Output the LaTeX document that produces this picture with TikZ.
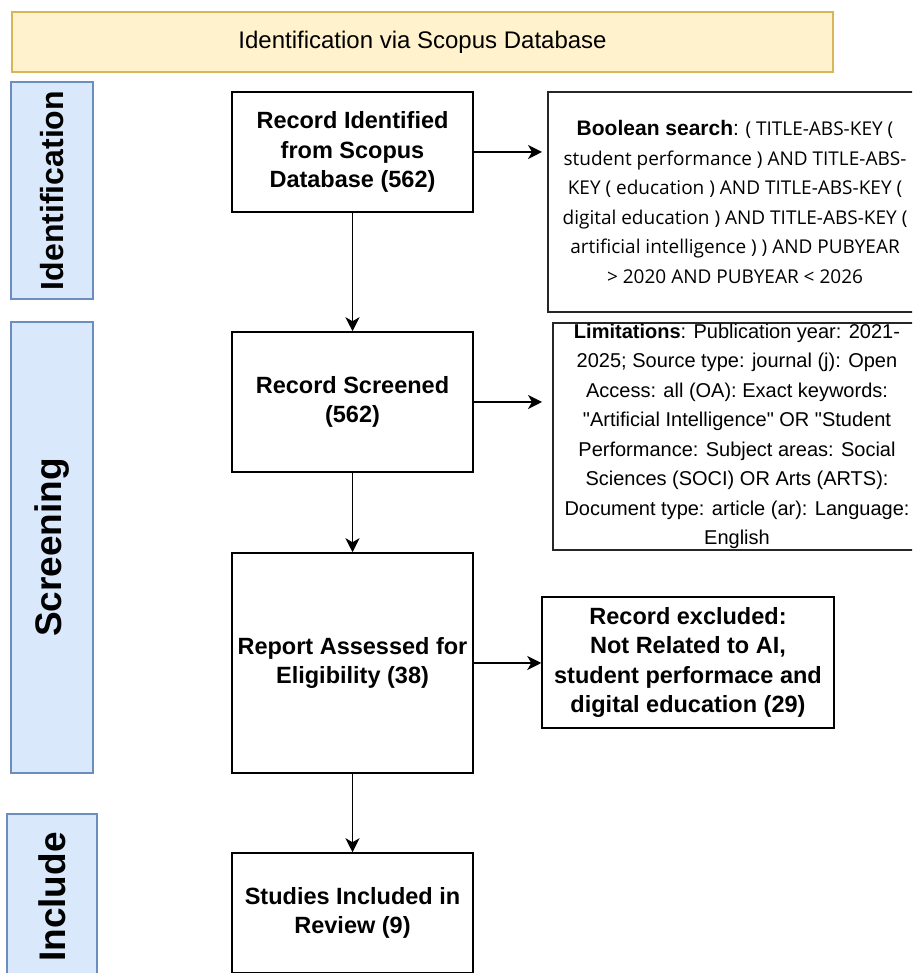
\documentclass[tikz,border=0pt]{standalone}
\usepackage{fontspec}
\setmainfont{Liberation Sans}[Ligatures=TeXOff]
\newfontfamily\queryfont{Open Sans}
\usetikzlibrary{arrows.meta}

\definecolor{bannerfill}{HTML}{FFF2CC}
\definecolor{bannerline}{HTML}{D6B656}
\definecolor{phasefill}{HTML}{DAE8FC}
\definecolor{phaseline}{HTML}{6C8EBF}

\begin{document}
\begin{tikzpicture}[x=1pt, y=1pt,
	flowbox/.style={draw, line width=1.5pt, align=center, inner sep=1pt, minimum width=241pt,
		font=\bfseries\fontsize{23.5}{29.5}\selectfont},
	phasebox/.style={draw=phaseline, fill=phasefill, line width=1.5pt, rotate=90, inner sep=0pt,
		font=\bfseries\fontsize{37}{40}\selectfont},
	notebox/.style={draw=black!85, line width=2pt, align=center, inner sep=0pt},
	flow/.style={line width=1.5pt, -{Stealth[length=14pt, width=14pt, inset=4pt]}}]
			%\draw[help lines] (0,0) grid[step=50] (912,973);
			\useasboundingbox (0,0) rectangle (912,973);
			\clip (0,0) rectangle (912,973);
			
			\node[draw=bannerline, fill=bannerfill, line width=1.5pt, minimum width=821pt, minimum height=60pt,
				font=\fontsize{24}{28}\selectfont] (banner) at (422.5,931) {Identification via Scopus Database};
			
			\node[phasebox, minimum width=217pt, minimum height=82pt, font=\bfseries\fontsize{32}{36}\selectfont]
				(identphase) at (52,782.5) {Identification};
			\node[phasebox, minimum width=451pt, minimum height=82pt] (screenphase) at (52,425.5) {Screening};
			\node[phasebox, minimum width=166pt, minimum height=90pt] (includephase) at (52,76) {Include};
			
			\node[flowbox, minimum height=120pt] (identified) at (352.5,821) {Record Identified\\from Scopus\\Database (562)};
			\node[flowbox, minimum height=140pt] (screened) at (352.5,571) {Record Screened\\(562)};
			\node[flowbox, minimum height=220pt] (assessed) at (352.5,310) {Report Assessed for\\Eligibility (38)};
			\node[flowbox, minimum height=120pt] (included) at (352.5,60) {Studies Included in\\Review (9)};
			
			\node[notebox, minimum width=374pt, minimum height=220pt, font=\queryfont\fontsize{19}{29.5}\selectfont]
				(query) at (735,771) {{\rmfamily\fontsize{21}{29.5}\selectfont\bfseries Boolean search}{\rmfamily\fontsize{21}{29.5}\selectfont:} ( TITLE-ABS-KEY (\\
				student performance ) AND TITLE-ABS-\\
				KEY ( education ) AND TITLE-ABS-KEY (\\
				digital education ) AND TITLE-ABS-KEY (\\
				artificial intelligence ) ) AND PUBYEAR\\
				> 2020 AND PUBYEAR < 2026};
			\node[notebox, minimum width=368pt, minimum height=227pt, font=\fontsize{20}{29.5}\selectfont]
				(limits) at (737,536.5) {\textbf{Limitations}: Publication year: 2021-\\
				2025; Source type: journal (j): Open\\
				Access: all (OA): Exact keywords:\\
				"Artificial Intelligence" OR "Student\\
				Performance: Subject areas: Social\\
				Sciences (SOCI) OR Arts (ARTS):\\
				Document type: article (ar): Language:\\
				English};
			\node[flowbox, minimum width=292pt, minimum height=131pt] (excluded) at (688,310.5)
				{Record excluded:\\Not Related to AI,\\student performace and\\digital education (29)};
			
			\draw[flow] (identified) -- (screened);
			\draw[flow] (screened) -- (assessed);
			\draw[flow] (assessed) -- (included);
			\draw[flow, shorten >=5pt] (identified.east) -- (identified.east -| query.west);
			\draw[flow, shorten >=10pt] (screened.east) -- (screened.east -| limits.west);
			\draw[flow] (assessed.east) -- (assessed.east -| excluded.west);
		\end{tikzpicture}
\end{document}
